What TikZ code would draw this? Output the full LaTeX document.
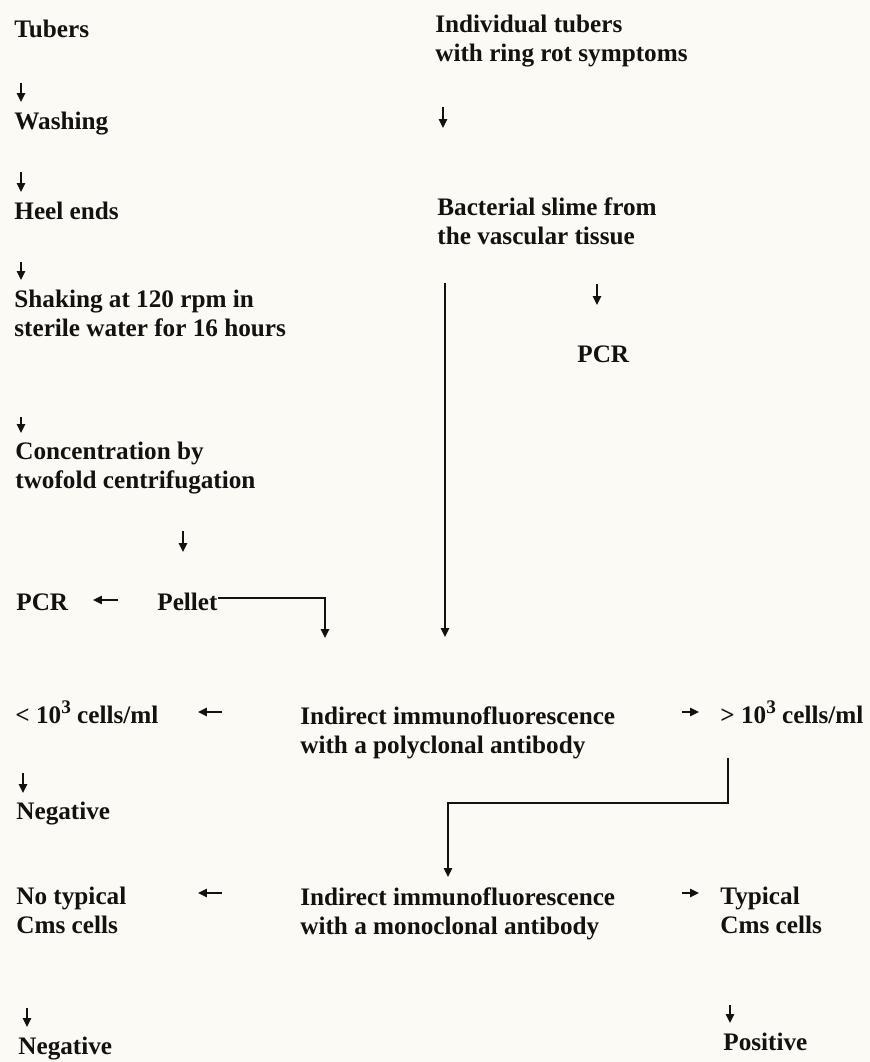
\documentclass[tikz,border=0pt]{standalone}
\usepackage{fontspec}
\setmainfont{Liberation Serif}
\usetikzlibrary{arrows.meta}
\definecolor{paper}{RGB}{251,250,245}
\definecolor{ink}{RGB}{20,18,16}
\newcommand{\supthree}{\smash{\raisebox{0.42em}{\fontsize{9.6}{9.6}\selectfont 3}}}
\tikzset{
  lbl/.style={anchor=north west, inner sep=0pt, align=left, text=ink,
              font=\bfseries\fontsize{12.6}{14.5}\selectfont},
  arr/.style={draw=ink, line width=1pt, -{Triangle[length=4.4pt,width=4pt]}},
}
\begin{document}
\begin{tikzpicture}[x=0.5pt,y=-0.5pt]
\fill[paper] (0,0) rectangle (870,1062);
\useasboundingbox (0,0) rectangle (870,1062);

% left column
\node[lbl] (tubers)  at (14,20)  {Tubers};
\node[lbl] (washing) at (14,112) {Washing};
\node[lbl] (heel)    at (14,202) {Heel ends};
\node[lbl] (shaking) at (14,290) {Shaking at 120 rpm in\\sterile water for 16 hours};
\node[lbl] (conc)    at (15,442) {Concentration by\\twofold centrifugation};
\node[lbl] (pcrL)    at (16,593) {PCR};
\node[lbl] (pellet)  at (157,593) {Pellet};

% right column
\node[lbl] (indiv) at (435,15)  {Individual tubers\\with ring rot symptoms};
\node[lbl] (bact)  at (437,197) {Bacterial slime from\\the vascular tissue};
\node[lbl] (pcrR)  at (577,345) {PCR};

% polyclonal row
\node[lbl] (lt)   at (15,706)  {< 10\supthree\ cells/ml};
\node[lbl] (poly) at (300,706) {Indirect immunofluorescence\\with a polyclonal antibody};
\node[lbl] (gt)   at (720,706) {> 10\supthree\ cells/ml};
\node[lbl] (neg1) at (16,802)  {Negative};

% monoclonal row
\node[lbl] (notyp) at (16,887)  {No typical\\Cms cells};
\node[lbl] (mono)  at (300,887) {Indirect immunofluorescence\\with a monoclonal antibody};
\node[lbl] (typ)   at (720,887) {Typical\\Cms cells};
\node[lbl] (neg2)  at (18,1037) {Negative};
\node[lbl] (pos)   at (723,1033) {Positive};

\coordinate (p1) at (325,638);
\coordinate (p2) at (445,637);
\coordinate (q1) at (448,803);

% left column arrows
\draw[arr] ([shift={(7,44)}]tubers.south west) -- ([shift={(7,-10)}]washing.north west);
\draw[arr] ([shift={(7,36)}]washing.south west) -- ([shift={(7,-10)}]heel.north west);
\draw[arr] ([shift={(7,41)}]heel.south west) -- ([shift={(7,-10)}]shaking.north west);
\draw[arr] ([shift={(7,79)}]shaking.south west) -- ([shift={(6,-9)}]conc.north west);
\draw[arr] ([shift={(168,36)}]conc.south west) -- ([shift={(26,-41)}]pellet.north west);
\draw[arr] ([shift={(-39,7)}]pellet.north west) -- ([shift={(77,7)}]pcrL.north west);
\draw[arr] ([shift={(0,5)}]pellet.north east) -| (p1);

% right column arrows
\draw[arr] ([shift={(8,39)}]indiv.south west) -- ([shift={(6,-69)}]bact.north west);
\draw[arr] ([shift={(8,38)}]bact.south west) -- (p2);
\draw[arr] ([shift={(160,39)}]bact.south west) -- ([shift={(20,-40)}]pcrR.north west);

% polyclonal row arrows
\draw[arr] ([shift={(-78,6)}]poly.north west) -- ([shift={(183,6)}]lt.north west);
\draw[arr] ([shift={(382,6)}]poly.north west) -- ([shift={(-21,6)}]gt.north west);
\draw[arr] ([shift={(8,67)}]lt.north west) -- ([shift={(7,-9)}]neg1.north west);
\draw[arr] ([shift={(8,52)}]gt.north west) |- (q1) -- ([shift={(148,-10)}]mono.north west);

% monoclonal row arrows
\draw[arr] ([shift={(-78,6)}]mono.north west) -- ([shift={(182,6)}]notyp.north west);
\draw[arr] ([shift={(382,6)}]mono.north west) -- ([shift={(-21,6)}]typ.north west);
\draw[arr] ([shift={(11,121)}]notyp.north west) -- ([shift={(9,-10)}]neg2.north west);
\draw[arr] ([shift={(10,118)}]typ.north west) -- ([shift={(7,-10)}]pos.north west);
\end{tikzpicture}
\end{document}
